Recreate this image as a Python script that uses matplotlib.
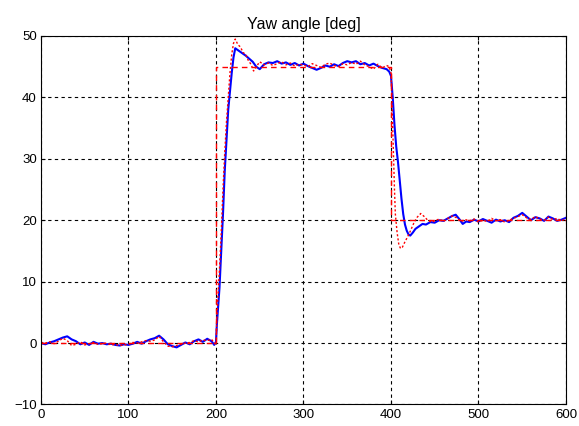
import numpy as np
import matplotlib
matplotlib.use("Agg")
import matplotlib.pyplot as plt

plt.rcParams['font.family'] = ['Liberation Sans', 'DejaVu Sans']

# measured yaw angle (blue)
meas_t = [0, 5, 10, 15, 20, 25, 30, 35, 40, 45, 50, 55, 60, 65, 70, 75, 80, 85, 90, 95,
          100, 105, 110, 115, 120, 125, 130, 135, 140, 145, 150, 155, 160, 165, 170, 175,
          180, 185, 190, 195, 198, 200, 201, 202, 204, 206, 208, 210, 212, 214, 216, 218,
          220, 222, 226, 230, 234, 238, 242, 246, 250, 255, 260, 265, 270, 275, 280, 285,
          290, 295, 300, 305, 310, 315, 320, 325, 330, 335, 340, 345, 350, 355, 360, 365,
          370, 375, 380, 385, 390, 395, 398, 400, 402, 404, 406, 408, 410, 412, 414, 416,
          418, 420, 422, 425, 428, 432, 436, 440, 445, 450, 455, 460, 465, 470, 474, 478,
          482, 486, 490, 495, 500, 505, 510, 515, 520, 525, 530, 535, 540, 545, 550, 555,
          560, 565, 570, 575, 580, 585, 590, 595, 600]
meas_y = [0.0, -0.2, 0.1, 0.3, 0.6, 0.9, 1.1, 0.6, 0.3, -0.2, 0.1, -0.3, 0.2, -0.1, 0.0,
          -0.2, -0.1, -0.3, -0.4, -0.2, -0.3, -0.1, 0.2, -0.1, 0.3, 0.6, 0.8, 1.2, 0.6, -0.2,
          -0.5, -0.7, -0.3, 0.1, -0.2, 0.3, 0.6, 0.2, 0.7, 0.3, -0.3, 0.2, 3.0, 5.0, 9.0, 15.0,
          21.0, 28.0, 33.0, 38.0, 41.0, 44.0, 46.5, 48.0, 47.6, 47.2, 46.8, 46.3, 45.8, 45.0,
          44.6, 45.4, 45.7, 45.6, 45.9, 45.5, 45.7, 45.3, 45.6, 45.2, 45.5, 45.1, 44.8, 44.5,
          44.8, 45.2, 45.0, 45.4, 45.1, 45.6, 45.9, 45.7, 45.9, 45.4, 45.6, 45.2, 45.5, 45.1,
          44.8, 44.6, 44.2, 43.5, 40.0, 35.5, 32.0, 29.5, 26.5, 23.5, 21.0, 19.3, 18.3, 17.7,
          17.5, 18.0, 18.6, 19.0, 19.4, 19.3, 19.7, 19.6, 20.0, 19.9, 20.3, 20.7, 20.9, 20.2,
          19.4, 19.8, 19.7, 20.1, 19.8, 20.2, 19.9, 19.6, 20.1, 19.8, 20.0, 19.7, 20.4, 20.7,
          21.2, 20.6, 20.0, 20.5, 20.3, 19.9, 20.6, 20.3, 19.9, 20.1, 20.4]

# model response (red dotted)
model_t = [0, 5, 10, 15, 20, 25, 30, 35, 40, 45, 50, 55, 60, 65, 70, 75, 80, 85, 90, 95,
           100, 105, 110, 115, 120, 125, 130, 135, 140, 145, 150, 155, 160, 165, 170, 175,
           180, 185, 190, 195, 198, 200, 201, 202, 204, 206, 208, 210, 212, 214, 216, 218,
           220, 222, 225, 228, 231, 234, 237, 240, 243, 246, 250, 255, 260, 265, 270, 275,
           280, 285, 290, 295, 300, 305, 310, 315, 320, 325, 330, 335, 340, 345, 350, 355,
           360, 365, 370, 375, 380, 385, 390, 395, 398, 400, 401, 402, 403, 404, 405, 407,
           409, 411, 413, 416, 419, 422, 426, 430, 434, 438, 442, 446, 450, 455, 460, 465,
           470, 475, 480, 485, 490, 495, 500, 505, 510, 515, 520, 525, 530, 535, 540, 545,
           550, 555, 560, 565, 570, 575, 580, 585, 590, 595, 600]
model_y = [0.1, 0.0, 0.2, -0.1, 0.3, 0.8, 0.4, -0.4, -0.2, 0.2, -0.3, -0.1, 0.1, -0.2, -0.1,
           0.0, -0.3, -0.2, -0.4, -0.3, -0.2, 0.1, 0.0, 0.2, 0.4, 0.3, 0.5, 1.1, 0.2, -0.5,
           -0.6, -0.4, -0.2, 0.0, 0.1, 0.4, 0.2, 0.5, 0.4, 0.6, 0.0, -0.3, 4.0, 7.0, 12.0,
           18.0, 25.0, 31.0, 36.0, 40.0, 44.0, 47.0, 48.8, 49.5, 48.6, 48.2, 47.3, 47.0, 46.0,
           45.4, 44.3, 45.0, 45.8, 45.3, 45.6, 45.2, 45.5, 45.8, 45.3, 45.6, 45.1, 45.4, 45.3,
           45.0, 45.5, 45.2, 44.9, 45.4, 45.6, 45.2, 45.0, 45.5, 45.3, 45.7, 45.4, 45.9, 45.3,
           45.0, 44.6, 45.4, 44.8, 45.2, 45.0, 44.0, 40.0, 35.0, 30.0, 25.0, 21.0, 18.0, 16.0,
           15.4, 15.6, 16.5, 17.3, 18.2, 19.5, 20.5, 21.1, 20.6, 20.0, 19.7, 19.9, 20.2, 19.8,
           20.3, 20.7, 20.4, 19.8, 20.1, 19.9, 20.2, 19.7, 20.0, 19.8, 20.3, 19.9, 20.1, 19.7,
           20.0, 20.3, 20.6, 20.9, 20.4, 20.1, 20.6, 20.2, 20.0, 20.5, 20.1, 20.3, 19.9, 20.3]

# reference step (red dashed)
ref_t = [0, 200, 200, 400, 400, 600]
ref_y = [0, 0, 45, 45, 20, 20]

fig = plt.figure(figsize=(5.79, 4.26), dpi=100)
ax = fig.add_axes([0.0708, 0.0505, 0.9067, 0.865])

ax.plot(meas_t, meas_y, color='blue', lw=1.5)
ax.plot(ref_t, ref_y, color='red', lw=1.0, linestyle=(0, (4, 3)))
ax.plot(model_t, model_y, color='red', lw=1.0, linestyle=(0, (1.5, 1.5)))

ax.set_xlim(0, 600)
ax.set_ylim(-10, 50)
ax.set_xticks(np.arange(0, 601, 100))
ax.set_yticks(np.arange(-10, 51, 10))
ax.grid(True, color='black', linestyle=(0, (3, 3)), linewidth=0.8)
ax.tick_params(direction='in', length=3, labelsize=9.5, top=True, right=True, pad=3)
for s in ax.spines.values():
    s.set_linewidth(0.8)
ax.set_title('Yaw angle [deg]', fontsize=11.5, pad=5)

fig.savefig('out.png', dpi=100)
